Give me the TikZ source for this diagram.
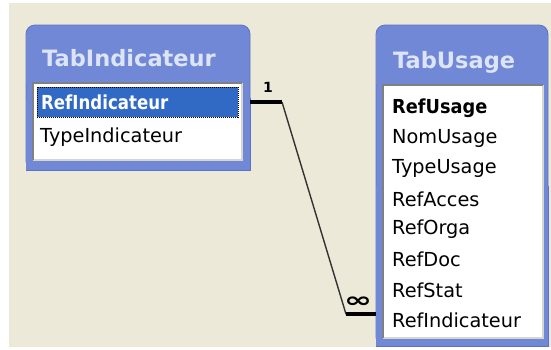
\documentclass[tikz,border=0pt]{standalone}
\usepackage{fontspec}
\setmainfont{DejaVu Sans}
\usetikzlibrary{calc}
\definecolor{bg}{HTML}{ECE9D8}
\definecolor{framecol}{HTML}{7088D6}
\definecolor{frameedge}{HTML}{5D72C4}
\definecolor{titlelight}{HTML}{93AAE9}
\definecolor{titletext}{HTML}{DCE4F6}
\definecolor{sel}{HTML}{316AC5}
\definecolor{sunken}{HTML}{808080}
\definecolor{lightedge}{HTML}{D8D6CC}
\tikzset{
  box/.style={inner sep=0pt, outer sep=0pt, anchor=north west},
  titletxt/.style={anchor=west, inner sep=0pt, text=titletext, font=\fontsize{22.5}{25}\selectfont\bfseries},
  rowtxt/.style={anchor=west, inner sep=0pt, font=\fontsize{19.3}{22}\selectfont},
  cardtxt/.style={inner sep=0pt, font=\bfseries},
  thickbar/.style={line width=4pt, black},
  thinline/.style={line width=1.4pt, black!80},
  framefill/.style={fill=framecol, draw=frameedge, line width=0.8pt},
}
\begin{document}
\begin{tikzpicture}[x=1pt,y=-1pt]
\useasboundingbox (0,0) rectangle (551,349);
\fill[white] (0,0) rectangle (551,349);
\fill[bg] (9,3) rectangle (551,347);

% ---------- Table A ----------
\node[box, minimum width=224pt, minimum height=145pt] (frameA) at (26,25) {};
\path[framefill, rounded corners=9pt] (frameA.south west) rectangle (frameA.north east);
\path[framefill] (frameA.west) -- (frameA.south west) -- (frameA.south east) -- (frameA.east);
\fill[framecol] ([shift={(0.4pt,0pt)}]frameA.west) rectangle ([shift={(-0.4pt,-0.4pt)}]frameA.south east);
\begin{scope}
\clip (26,25) rectangle (250,82);
\shade[top color=framecol, middle color=titlelight, bottom color=framecol, rounded corners=9pt] ([shift={(0.6pt,-0.6pt)}]frameA.north west) rectangle ([shift={(-0.6pt,0pt)}]frameA.east);
\end{scope}
\node[titletxt] (titleA) at (42,58) {TabIndicateur};
\node[box, fill=white, minimum width=209pt, minimum height=77pt] (listA) at (33,83) {};
\draw[lightedge, line width=1.5pt] (listA.south west) -- (listA.south east) -- (listA.north east);
\draw[sunken, line width=1.5pt] (listA.south west) -- (listA.north west) -- (listA.north east);
\node[box, fill=sel, draw=black, densely dotted, line width=1pt, minimum width=201pt, minimum height=30pt] (aSel) at (37,87) {};
\node[rowtxt, text=white, font=\fontsize{19.3}{22}\selectfont\bfseries] (a1) at (41,102) {\scalebox{0.86}[1]{RefIndicateur}};
\node[rowtxt] (a2) at (40,137) {TypeIndicateur};

% ---------- Table B ----------
\node[box, minimum width=172pt, minimum height=321pt] (frameB) at (376,25) {};
\path[framefill, rounded corners=9pt] (frameB.south west) rectangle (frameB.north east);
\path[framefill] (frameB.west) -- (frameB.south west) -- (frameB.south east) -- (frameB.east);
\fill[framecol] ([shift={(0.4pt,0pt)}]frameB.west) rectangle ([shift={(-0.4pt,-0.4pt)}]frameB.south east);
\begin{scope}
\clip (376,25) rectangle (548,84);
\shade[top color=framecol, middle color=titlelight, bottom color=framecol, rounded corners=9pt] ([shift={(0.6pt,-0.6pt)}]frameB.north west) rectangle ([shift={(-0.6pt,0pt)}]frameB.east);
\end{scope}
\node[titletxt] (titleB) at (393,62) {TabUsage};
\node[box, fill=white, minimum width=160pt, minimum height=253pt] (listB) at (383,85) {};
\draw[lightedge, line width=1.5pt] (listB.south west) -- (listB.south east) -- (listB.north east);
\draw[sunken, line width=1.5pt] (listB.south west) -- (listB.north west) -- (listB.north east);
\node[rowtxt, font=\fontsize{19.3}{22}\selectfont\bfseries] (b1) at (392,108) {\scalebox{0.92}[1]{RefUsage}};
\node[rowtxt] (b2) at (392,138.3) {NomUsage};
\node[rowtxt] (b3) at (392,168.6) {TypeUsage};
\node[rowtxt] (b4) at (392,198.9) {RefAcces};
\node[rowtxt] (b5) at (392,229.2) {RefOrga};
\node[rowtxt] (b6) at (392,259.5) {RefDoc};
\node[rowtxt] (b7) at (392,289.8) {RefStat};
\node[rowtxt] (b8) at (392,320.1) {RefIndicateur};

% ---------- Relationship ----------
\coordinate (pA) at (frameA.east |- aSel.center);
\coordinate (kA) at ($(pA)+(32,0)$);
\coordinate (pB) at ([yshift=6pt]frameB.west |- b8.center);
\coordinate (kB) at ($(pB)+(-30,0)$);
\draw[thinline] (kA) -- (kB);
\draw[thickbar] (pA) -- (kA);
\draw[thickbar] (kB) -- (pB);
\node[cardtxt, font=\fontsize{14}{16}\selectfont\bfseries] (one) at (268,87.5) {1};
\node[cardtxt, font=\fontsize{21}{22}\selectfont\bfseries] (many) at (358,302) {\scalebox{1.6}[1]{∞}};
\end{tikzpicture}
\end{document}
